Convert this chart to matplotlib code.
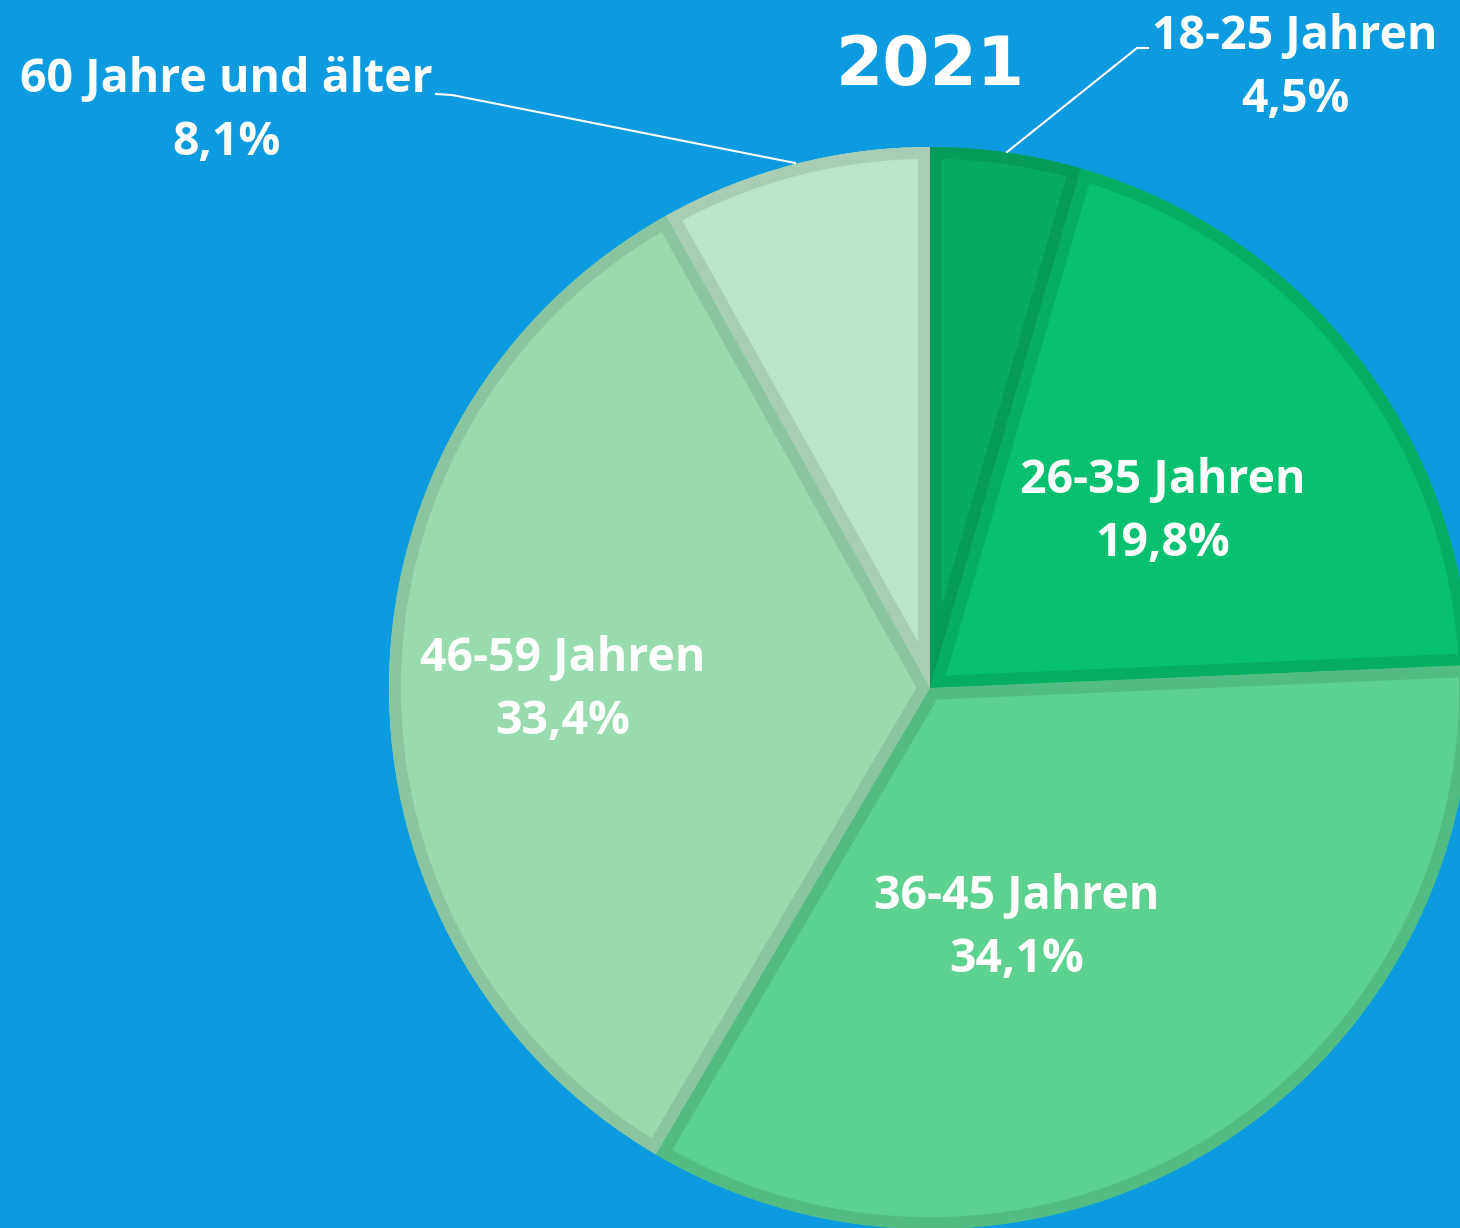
import matplotlib
matplotlib.use("Agg")
import matplotlib.pyplot as plt
from matplotlib.patches import Wedge

labels = ["18-25 Jahren", "26-35 Jahren", "36-45 Jahren", "46-59 Jahren", "60 Jahre und älter"]
values = [4.5, 19.8, 34.1, 33.4, 8.1]
fills = ["#06AC62", "#07C170", "#5CD190", "#98DBAF", "#BBE4C9"]
edges = ["#069B58", "#06AE63", "#52BC82", "#89C59E", "#A8CDB4"]
title = "2021"

bg = "#0B9BDE"
W, H = 1460, 1228

fig = plt.figure(figsize=(14.6, 12.28), dpi=100, facecolor=bg)
ax = fig.add_axes([0, 0, 1, 1])
ax.set_facecolor(bg)

cx, cy, r = 930, H - 688, 541
wedges, _ = ax.pie(values, colors=fills, startangle=90, counterclock=False,
                   center=(cx, cy), radius=r, frame=True,
                   wedgeprops=dict(linewidth=0))

# inner border: a thick outline clipped to its own wedge
for w, ec in zip(wedges, edges):
    b = Wedge(w.center, w.r, w.theta1, w.theta2, facecolor="none",
              edgecolor=ec, linewidth=17)
    ax.add_patch(b)
    b.set_clip_path(w)

ax.set_xlim(0, W)
ax.set_ylim(0, H)
ax.set_aspect("equal")
ax.axis("off")

font = ["Open Sans", "DejaVu Sans"]

def pct(v):
    return ("%.1f" % v).replace(".", ",") + "%"

def lab(x, y, i, size=33.5):
    ax.text(x, H - y, labels[i] + "\n" + pct(values[i]), ha="center", va="center",
            color="white", fontsize=size, fontweight="bold", family=font,
            linespacing=1.42)

ax.text(930, H - 66, title, ha="center", va="center", color="white",
        fontsize=49, fontweight="bold", family="DejaVu Sans")

lab(1295, 68, 0)
lab(1163, 512, 1)
lab(1017, 928, 2)
lab(563, 690, 3)
lab(226, 111, 4)

# leader lines
ax.plot([1148, 1137, 1007], [H - 48, H - 48, H - 152], color="white", lw=1.5)
ax.plot([436, 452, 795], [H - 94, H - 95, H - 163], color="white", lw=1.5)

fig.savefig("out.png", dpi=100, facecolor=bg)
